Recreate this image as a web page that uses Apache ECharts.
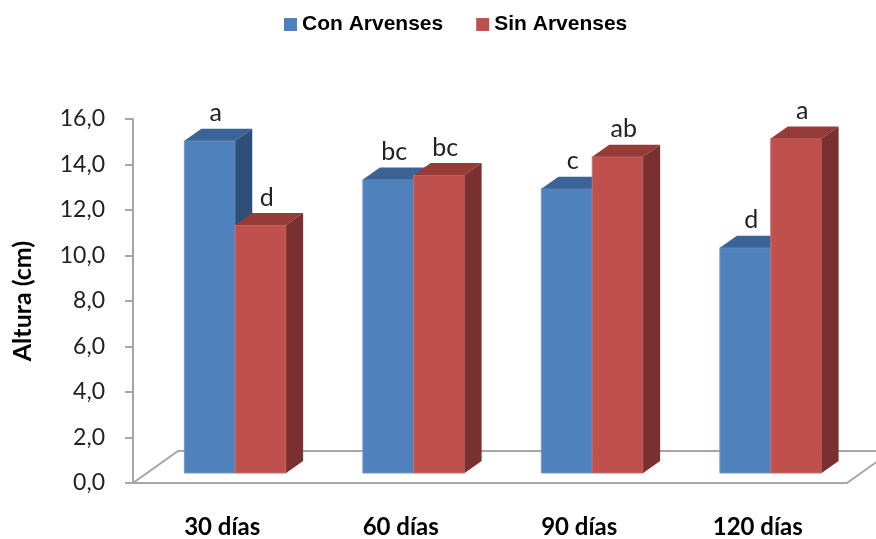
<!DOCTYPE html>
<html>
<head>
<meta charset="utf-8">
<script src="https://cdn.jsdelivr.net/npm/echarts@6/dist/echarts.min.js"></script>
<style>
  html, body { margin: 0; padding: 0; background: #fff; }
  #echart { width: 876px; height: 539px; }
</style>
</head>
<body>
<div id="echart"></div>
<script>
var categories = ['30 días', '60 días', '90 días', '120 días'];
var conArvenses = [14.6, 12.9, 12.5, 9.9];
var sinArvenses = [10.9, 13.1, 13.9, 14.7];
var conLetras = ['a', 'bc', 'c', 'd'];
var sinLetras = ['d', 'bc', 'ab', 'a'];
var yTicks = [0, 2, 4, 6, 8, 10, 12, 14, 16];

// fake 3d: front face offset from the axis, and depth of the boxes
var DX = 13, DY = 10;
var SX = 17, SY = 12;
var axisGray = '#a6a6a6';

function barRenderer(side, colors, letras) {
    return function (params, api) {
        var i = api.value(0), v = api.value(1);
        var band = api.size([1, 0])[0];
        var w = band * 0.285;
        var base = api.coord([i, 0]);
        var top = api.coord([i, v]);
        var x = base[0] + DX + (side === 0 ? -w : 0);
        var yb = base[1] - DY, yt = top[1] - DY;
        return {
            type: 'group',
            children: [
                { type: 'rect', shape: { x: x, y: yt, width: w, height: yb - yt },
                  style: { fill: colors[0], stroke: colors[3], lineWidth: 1 } },
                { type: 'polygon', shape: { points: [[x, yt], [x + w, yt], [x + w + SX, yt - SY], [x + SX, yt - SY]] },
                  style: { fill: colors[1] } },
                { type: 'polygon', shape: { points: [[x + w, yt], [x + w + SX, yt - SY], [x + w + SX, yb - SY], [x + w, yb]] },
                  style: { fill: colors[2] } },
                { type: 'text', x: x + w / 2 + 6, y: yt - SY - 3,
                  style: { text: letras[params.dataIndex], align: 'center', verticalAlign: 'bottom',
                           fontFamily: 'Lato', fontSize: 25, fill: '#222' } }
            ]
        };
    };
}

function floorRenderer(params, api) {
    var cs = params.coordSys;
    var x0 = cs.x, x1 = cs.x + cs.width, yb = cs.y + cs.height;
    var fx = 45, fy = 32;
    return {
        type: 'polyline',
        shape: { points: [[x0, yb], [x0 + fx, yb - fy], [x1 + fx, yb - fy], [x1, yb]] },
        style: { stroke: axisGray, lineWidth: 2, fill: null }
    };
}

try {
    var chart = echarts.init(document.getElementById('echart'));
    var option = {
        animation: false,
        legend: {
            data: ['Con Arvenses', 'Sin Arvenses'],
            left: 279, top: 9,
            icon: 'rect', itemWidth: 13, itemHeight: 13, itemGap: 33,
            textStyle: { fontFamily: 'Liberation Sans', fontWeight: 'bold', fontSize: 21, color: '#000' }
        },
        grid: { left: 133, top: 119, width: 714, height: 364 },
        xAxis: {
            type: 'category',
            data: categories,
            axisTick: { show: false },
            axisLine: { lineStyle: { color: axisGray, width: 2 } },
            axisLabel: { margin: 32, fontFamily: 'Lato', fontWeight: 'bold', fontSize: 24, color: '#000' }
        },
        yAxis: {
            type: 'value',
            min: yTicks[0], max: yTicks[yTicks.length - 1], interval: 2,
            name: 'Altura (cm)',
            nameLocation: 'middle',
            nameGap: 98,
            nameTextStyle: { fontFamily: 'Lato', fontWeight: 'bold', fontSize: 25, color: '#000' },
            axisLine: { show: true, lineStyle: { color: axisGray, width: 2 } },
            axisTick: { show: true, length: 8, lineStyle: { color: axisGray, width: 2 } },
            splitLine: { show: false },
            axisLabel: {
                margin: 28, fontFamily: 'Lato', fontSize: 23, color: '#222',
                formatter: function (v) { return v.toFixed(1).replace('.', ','); }
            }
        },
        series: [
            {
                name: 'floor', type: 'custom', z: 1, silent: true,
                data: [[0, 0]], renderItem: floorRenderer
            },
            {
                name: 'Con Arvenses', type: 'custom', z: 2,
                itemStyle: { color: '#4f81bd' },
                encode: { x: 0, y: 1 },
                data: conArvenses.map(function (v, i) { return [i, v]; }),
                renderItem: barRenderer(0, ['#4f81bd', '#3b6396', '#2e5078', '#6f97c8'], conLetras)
            },
            {
                name: 'Sin Arvenses', type: 'custom', z: 2,
                itemStyle: { color: '#c0504d' },
                encode: { x: 0, y: 1 },
                data: sinArvenses.map(function (v, i) { return [i, v]; }),
                renderItem: barRenderer(1, ['#c0504d', '#953c39', '#7a302e', '#cc6d6a'], sinLetras)
            }
        ]
    };
    chart.setOption(option);
} catch (error) {
    console.error('Failed to draw chart');
    console.error(error);
}
</script>
</body>
</html>
